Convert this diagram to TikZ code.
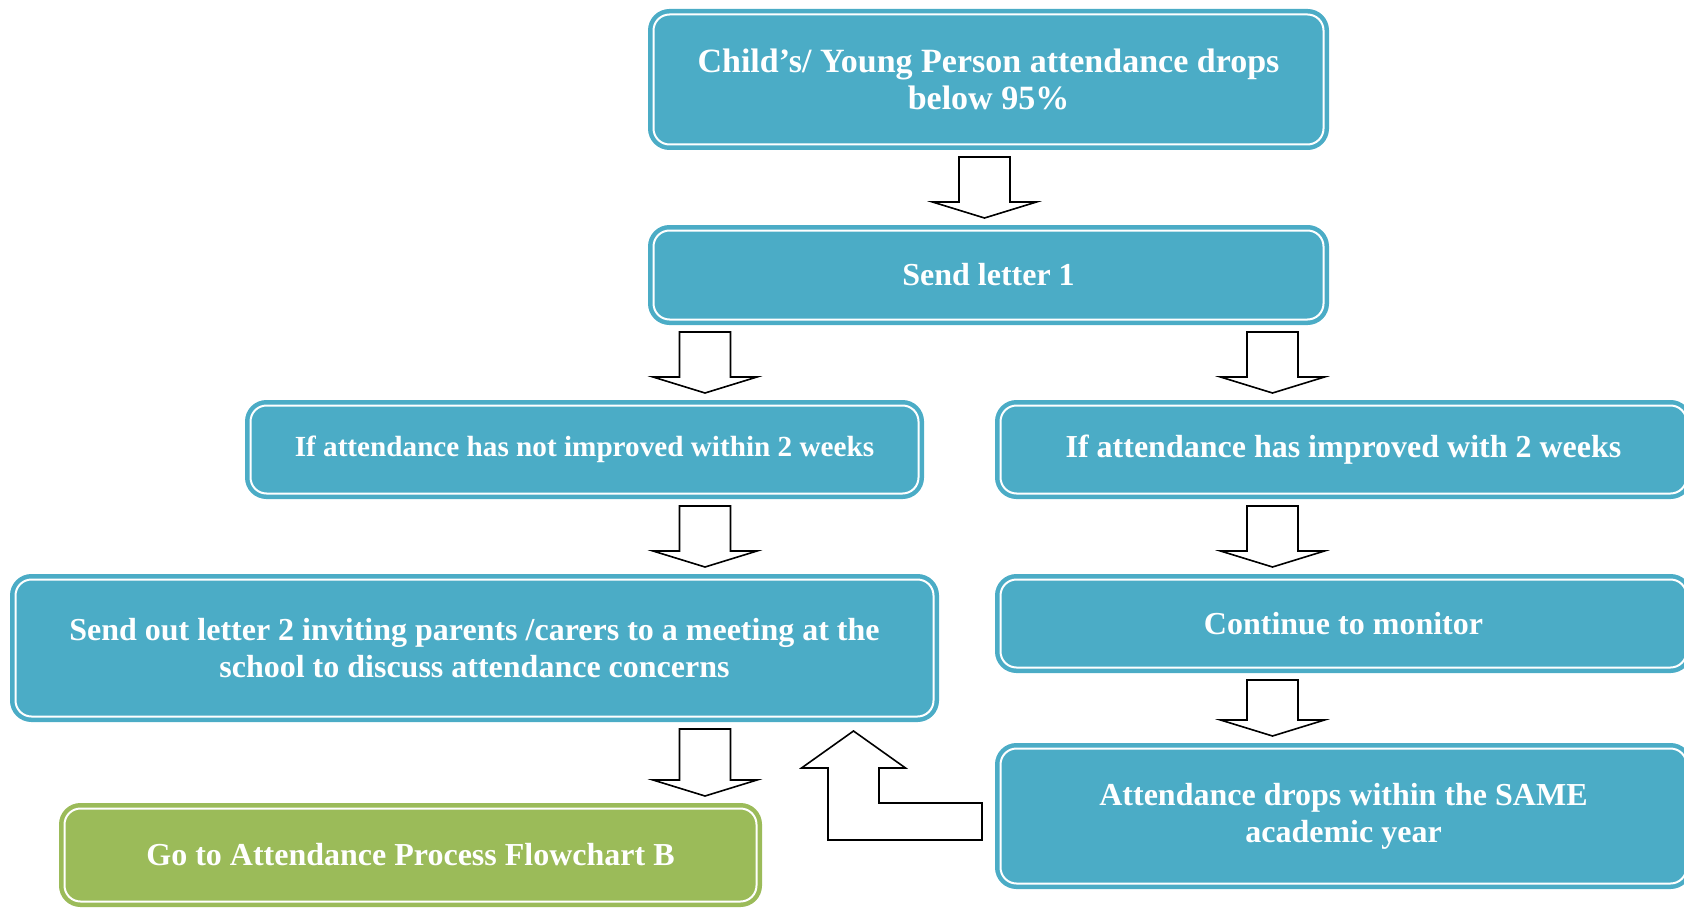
\documentclass[tikz,border=0pt]{standalone}
\usepackage{xcolor}
\usepackage{fontspec}
\setmainfont{Liberation Serif}
\usepackage{tikz}
\usetikzlibrary{positioning,calc}

\definecolor{boxblue}{RGB}{75,172,198}
\definecolor{boxgreen}{RGB}{155,187,89}

\begin{document}
\begin{tikzpicture}[x=0.5pt,y=-0.5pt,
    box/.style={draw=boxblue,fill=boxblue,double=white,double distance=1pt,line width=2.25pt,
        rounded corners=8pt,outer sep=2.75pt,inner sep=0pt,align=center,text=white,
        font=\fontsize{16}{18.5}\selectfont\bfseries},
    greenbox/.style={box,draw=boxgreen,fill=boxgreen},
    blockarrow/.style={draw=black,fill=white,line width=0.8pt,line join=miter}]
\useasboundingbox (0,0) rectangle (1684,909);
\clip (0,0) rectangle (1684,909);

% Boxes
\node[box,minimum width=335pt,minimum height=65pt,font=\fontsize{17}{18.5}\selectfont\bfseries] (drop) at (988.5,79.5) {Child's/ Young Person attendance drops\\below 95\%};
\node[box,minimum width=335pt,minimum height=44.5pt] (letter1) at (988.5,275) {Send letter 1};
\node[box,minimum width=334pt,minimum height=44pt,font=\fontsize{14.6}{17}\selectfont\bfseries] (notimp) at (584.5,449.5) {If attendance has not improved within 2 weeks};
\node[box,minimum width=343pt,minimum height=44pt] (improved) at (1343.5,449.5) {If attendance has improved with 2 weeks};
\node[box,minimum width=459pt,minimum height=68.5pt] (letter2) at (474.5,648) {Send out letter 2 inviting parents /carers to a meeting at the\\school to discuss attendance concerns};
\node[box,minimum width=343pt,minimum height=44pt] (monitor) at (1343.5,623.5) {Continue to monitor};
\node[box,minimum width=343pt,minimum height=67.5pt] (dropagain) at (1343.5,816) {Attendance drops within the SAME\\academic year};
\node[greenbox,minimum width=346pt,minimum height=46.5pt] (flowB) at (410.5,855) {Go to Attendance Process Flowchart B};

% Arrow columns
\coordinate (colM) at (984.5,0);
\coordinate (colL) at (705,0);
\coordinate (colR) at (1272.5,0);
\coordinate (colB) at (853.5,0);

% Down arrows
\foreach \a/\b/\c in {drop/letter1/colM, letter1/notimp/colL, letter1/improved/colR,
    notimp/letter2/colL, improved/monitor/colR, letter2/flowB/colL, monitor/dropagain/colR}
    \draw[blockarrow] ($(\a.south -| \c)+(-25.5,7)$) -- ($(\a.south -| \c)+(25.5,7)$)
        -- ($(\b.north -| \c)+(25.5,-23)$) -- ($(\b.north -| \c)+(52,-23)$)
        -- ($(\b.north -| \c)+(0,-7)$) -- ($(\b.north -| \c)+(-52,-23)$)
        -- ($(\b.north -| \c)+(-25.5,-23)$) -- cycle;

% Back arrow
\coordinate (btip) at ($(letter2.south -| colB)+(0,9)$);
\coordinate (barm) at ($(dropagain.west)+(-13,5.5)$);
\draw[blockarrow] (btip) -- ++(52,37) -- ++(-26.5,0) |- ($(barm)+(0,-18.5)$) -- ++(0,37)
    -| ($(btip)+(-25.5,37)$) -- ++(-26.5,0) -- cycle;
\end{tikzpicture}
\end{document}
